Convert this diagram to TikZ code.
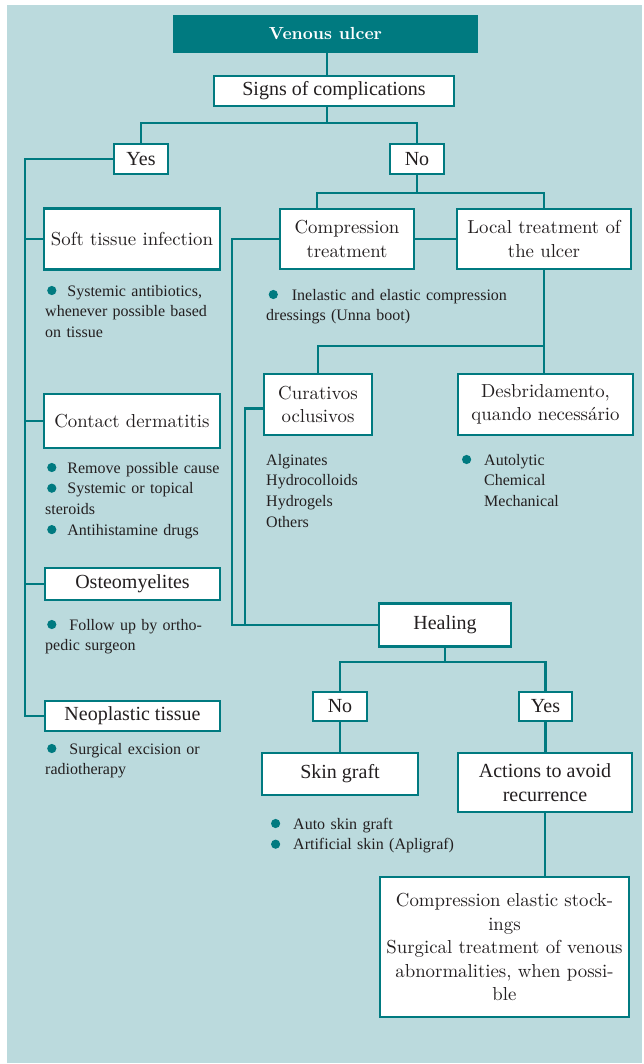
\documentclass[tikz,border=0pt]{standalone}
\usepackage{fontspec}
\usepackage{xcolor}
\usepackage{tikz}
\usetikzlibrary{calc,positioning}
\newfontfamily\garafont{Liberation Serif}
\newfontfamily\stonefont{lmroman10-regular.otf}[BoldFont=lmroman10-bold.otf]
\definecolor{ulcerTeal}{RGB}{0,122,128}
\definecolor{ulcerBack}{RGB}{187,218,221}
\definecolor{inkDark}{RGB}{35,31,32}
\newcommand{\ulcerDot}{\tikz[baseline=-5.5pt,x=1cm,y=1cm]\fill[ulcerTeal] (0,0) circle (4.6pt);}
\tikzset{%
  % Specifications for style of nodes:
  base/.style = {rectangle, draw=ulcerTeal, line width=2.4pt,
    fill=white, inner sep=0pt, align=center, text=inkDark},
  wideBox/.style = {base, font=\stonefont\fontsize{18.8}{23.5}\selectfont},
  narrowBox/.style = {base, font=\garafont\fontsize{20}{24}\selectfont},
  titleBox/.style = {base, fill=ulcerTeal, text=white,
    font=\stonefont\bfseries\fontsize{17.5}{21}\selectfont},
  note/.style = {anchor=base west, inner sep=0pt, text width=330pt,
    align=left, text=inkDark, font=\garafont\fontsize{16}{20.7}\selectfont},
  link/.style = {draw=ulcerTeal, line width=2.4pt},
}

\begin{document}
\begin{tikzpicture}[x=1pt, y=-1pt]
  \useasboundingbox (0,0) rectangle (643,1064);
  \fill[ulcerBack] (7,5) rectangle (642,1063);
  % Specification of nodes (position, etc.)
  \node (venous)[titleBox, minimum width=302, minimum height=35] at (325.5,34) {Venous ulcer};
  \node (signs)[narrowBox, minimum width=240, minimum height=30] at (334,91) {Signs of complications};
  \node (yes1)[narrowBox, minimum width=54, minimum height=30] at (141,159) {Yes};
  \node (no1)[narrowBox, minimum width=54, minimum height=30] at (417,159) {No};
  % left branch
  \node (soft)[wideBox, minimum width=176, minimum height=61] at (132,239) {Soft tissue infection};
  \node (contact)[wideBox, minimum width=176, minimum height=54] at (132,421) {Contact dermatitis};
  \node (osteo)[narrowBox, minimum width=175, minimum height=32] at (132.5,584) {Osteomyelites};
  \node (neo)[narrowBox, minimum width=175, minimum height=30] at (132.5,716) {Neoplastic tissue};
  \node (softNote)[note] at (45,296) {\hspace*{2pt}\ulcerDot\hspace{11pt}Systemic antibiotics,\\
    whenever possible based\\ on tissue};
  \node (contactNote)[note] at (45,473) {\hspace*{2pt}\ulcerDot\hspace{11pt}Remove possible cause\\
    \hspace*{2pt}\ulcerDot\hspace{11pt}Systemic or topical\\ steroids\\
    \hspace*{2pt}\ulcerDot\hspace{11pt}Antihistamine drugs};
  \node (osteoNote)[note] at (45,630) {\hspace*{2pt}\ulcerDot\hspace{13pt}Follow up by ortho-\\ pedic surgeon};
  \node (neoNote)[note] at (45,754) {\hspace*{2pt}\ulcerDot\hspace{13pt}Surgical excision or\\ radiotherapy};
  % right branch
  \node (comp)[wideBox, minimum width=134, minimum height=60] at (347,239) {Compression\\ treatment};
  \node (local)[wideBox, minimum width=174, minimum height=60] at (544,239) {Local treatment of\\ the ulcer};
  \node (compNote)[note] at (266,300) {\hspace*{2.5pt}\ulcerDot\hspace{14pt}Inelastic and elastic compression\\
    dressings (Unna boot)};
  \node (cur)[wideBox, minimum width=108, minimum height=61] at (318,404.5) {Curativos\\ oclusivos};
  \node (desb)[wideBox, minimum width=175, minimum height=61] at (545.5,404.5) {Desbridamento,\\ quando necessário};
  \node (curNote)[note] at (266,465) {Alginates\\ Hydrocolloids\\ Hydrogels\\ Others};
  \node (desbNote)[note] at (484,465) {\leavevmode\llap{\ulcerDot\hspace{13pt}}Autolytic\\ Chemical\\ Mechanical};
  \node (heal)[narrowBox, minimum width=132, minimum height=43] at (445,625) {Healing};
  \node (no2)[narrowBox, minimum width=54, minimum height=29] at (340,706.5) {No};
  \node (yes2)[narrowBox, minimum width=53, minimum height=29] at (545.5,706.5) {Yes};
  \node (skin)[narrowBox, minimum width=156, minimum height=42] at (340,774) {Skin graft};
  \node (act)[narrowBox, minimum width=174, minimum height=59] at (545,782.5) {Actions to avoid\\ recurrence};
  \node (skinNote)[note] at (293,829) {\leavevmode\llap{\ulcerDot\hspace{13pt}}Auto skin graft\\
    \leavevmode\llap{\ulcerDot\hspace{13pt}}Artificial skin (Apligraf)};
  \node (stock)[wideBox, minimum width=249, minimum height=140] at (504.5,947) {Compression elastic stock-\\ ings\\
    Surgical treatment of venous\\ abnormalities, when possi-\\ ble};
  % connectors
  \coordinate (forkTop) at (327,123);
  \coordinate (spine) at (25,0);
  \coordinate (forkNo) at (417,193);
  \coordinate (railA) at (232,0);
  \coordinate (railB) at (245,0);
  \coordinate (forkLocal) at (544,346);
  \coordinate (forkHeal) at (445,662);
  \draw[link] (venous.south -| forkTop) -- (signs.north -| forkTop);
  \draw[link] (signs.south -| forkTop) -- (forkTop);
  \draw[link] (yes1.north) |- (forkTop) -| (no1.north);
  \draw[link] (yes1.west) -| (spine |- neo.west) -- (neo.west);
  \foreach \n in {soft, contact, osteo}
    \draw[link] (spine |- \n.west) -- (\n.west);
  \draw[link] (no1.south) -- (forkNo);
  \draw[link] ([xshift=-30pt]comp.north) |- (forkNo) -| (local.north);
  \draw[link] (comp.east) -- (local.west);
  \draw[link] (comp.west) -| (railA |- heal.west) -- (heal.west);
  \draw[link] ([yshift=-4pt]cur.west) -| (railB |- heal.west);
  \draw[link] (local.south) -- (local.south |- desb.north);
  \draw[link] (cur.north) |- (forkLocal);
  \draw[link] (heal.south) -- (forkHeal);
  \draw[link] (no2.north) |- (forkHeal) -| (yes2.north);
  \draw[link] (no2.south) -- (skin.north);
  \draw[link] (yes2.south) -- (yes2.south |- act.north);
  \draw[link] (act.south) -- (act.south |- stock.north);
\end{tikzpicture}
\end{document}
